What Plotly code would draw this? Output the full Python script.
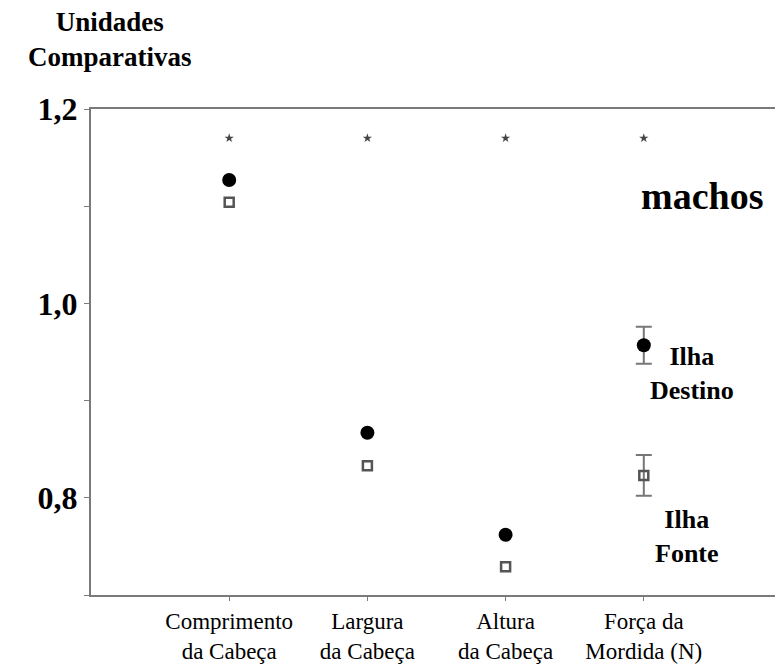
import plotly.graph_objects as go

# Categories (x positions are indices 0..3)
categories = [
    "Comprimento<br>da Cabeça",
    "Largura<br>da Cabeça",
    "Altura<br>da Cabeça",
    "Força da<br>Mordida (N)",
]
destino = [1.127, 0.867, 0.762, 0.957]
destino_err = [None, None, None, 0.019]
fonte = [1.104, 0.833, 0.729, 0.823]
fonte_err = [None, None, None, 0.021]
signif = [1.170, 1.170, 1.170, 1.170]

xs = list(range(len(categories)))
serif = "Liberation Serif, Times New Roman, serif"
axis_grey = "#7a7a7a"

fig = go.Figure()

# Error bars only where they exist (drawn under the markers)
for vals, errs in [(destino, destino_err), (fonte, fonte_err)]:
    idx = [i for i, e in enumerate(errs) if e is not None]
    fig.add_trace(
        go.Scatter(
            x=[xs[i] for i in idx],
            y=[vals[i] for i in idx],
            mode="markers",
            marker=dict(size=1, opacity=0),
            error_y=dict(type="data", array=[errs[i] for i in idx], color="#777", thickness=2, width=8),
            showlegend=False,
            hoverinfo="skip",
        )
    )

# Significance markers
fig.add_trace(
    go.Scatter(
        x=xs,
        y=signif,
        mode="markers",
        marker=dict(symbol="star", size=7, color="#444"),
        showlegend=False,
    )
)

# Ilha Destino (filled circles)
fig.add_trace(
    go.Scatter(
        x=xs,
        y=destino,
        mode="markers",
        marker=dict(symbol="circle", size=14, color="black"),
        showlegend=False,
    )
)

# Ilha Fonte (open squares)
fig.add_trace(
    go.Scatter(
        x=xs,
        y=fonte,
        mode="markers",
        marker=dict(symbol="square-open", size=9, color="#555", line=dict(width=2.5)),
        showlegend=False,
    )
)

fig.update_xaxes(
    range=[-1, 4],
    tickvals=xs,
    ticktext=categories,
    ticks="outside",
    ticklen=4,
    tickcolor=axis_grey,
    showline=True,
    linecolor=axis_grey,
    linewidth=2,
    mirror=True,
    showgrid=False,
    zeroline=False,
    automargin=False,
    tickfont=dict(family=serif, size=23, color="black"),
)
fig.update_yaxes(
    range=[0.7, 1.2],
    tickvals=[0.7, 0.8, 0.9, 1.0, 1.1, 1.2],
    ticktext=["", "<b>0,8</b>", "", "<b>1,0</b>", "", "<b>1,2</b>"],
    ticks="outside",
    ticklen=5,
    tickcolor=axis_grey,
    showline=True,
    linecolor=axis_grey,
    linewidth=2,
    mirror=True,
    showgrid=False,
    zeroline=False,
    automargin=False,
    tickfont=dict(family=serif, size=32, color="black"),
)

# Text annotations
fig.add_annotation(
    x=0.027, y=1.144, xref="paper", yref="paper", xanchor="center", yanchor="middle",
    text="<b>Unidades<br>Comparativas</b>",
    showarrow=False, font=dict(family=serif, size=27, color="black"),
)
fig.add_annotation(
    x=3.42, y=1.110, text="<b>machos</b>", showarrow=False,
    font=dict(family=serif, size=38, color="black"),
)
fig.add_annotation(
    x=3.35, y=0.928, text="<b>Ilha<br>Destino</b>", showarrow=False,
    font=dict(family=serif, size=26, color="black"),
)
fig.add_annotation(
    x=3.31, y=0.760, text="<b>Ilha<br>Fonte</b>", showarrow=False,
    font=dict(family=serif, size=26, color="black"),
)

# The page body adds a small offset, so the figure is sized to fit the window
fig.update_layout(
    width=775,
    height=659,
    margin=dict(l=83, r=1, t=101, b=72),
    plot_bgcolor="white",
    paper_bgcolor="white",
)

fig.write_html("out.html")
